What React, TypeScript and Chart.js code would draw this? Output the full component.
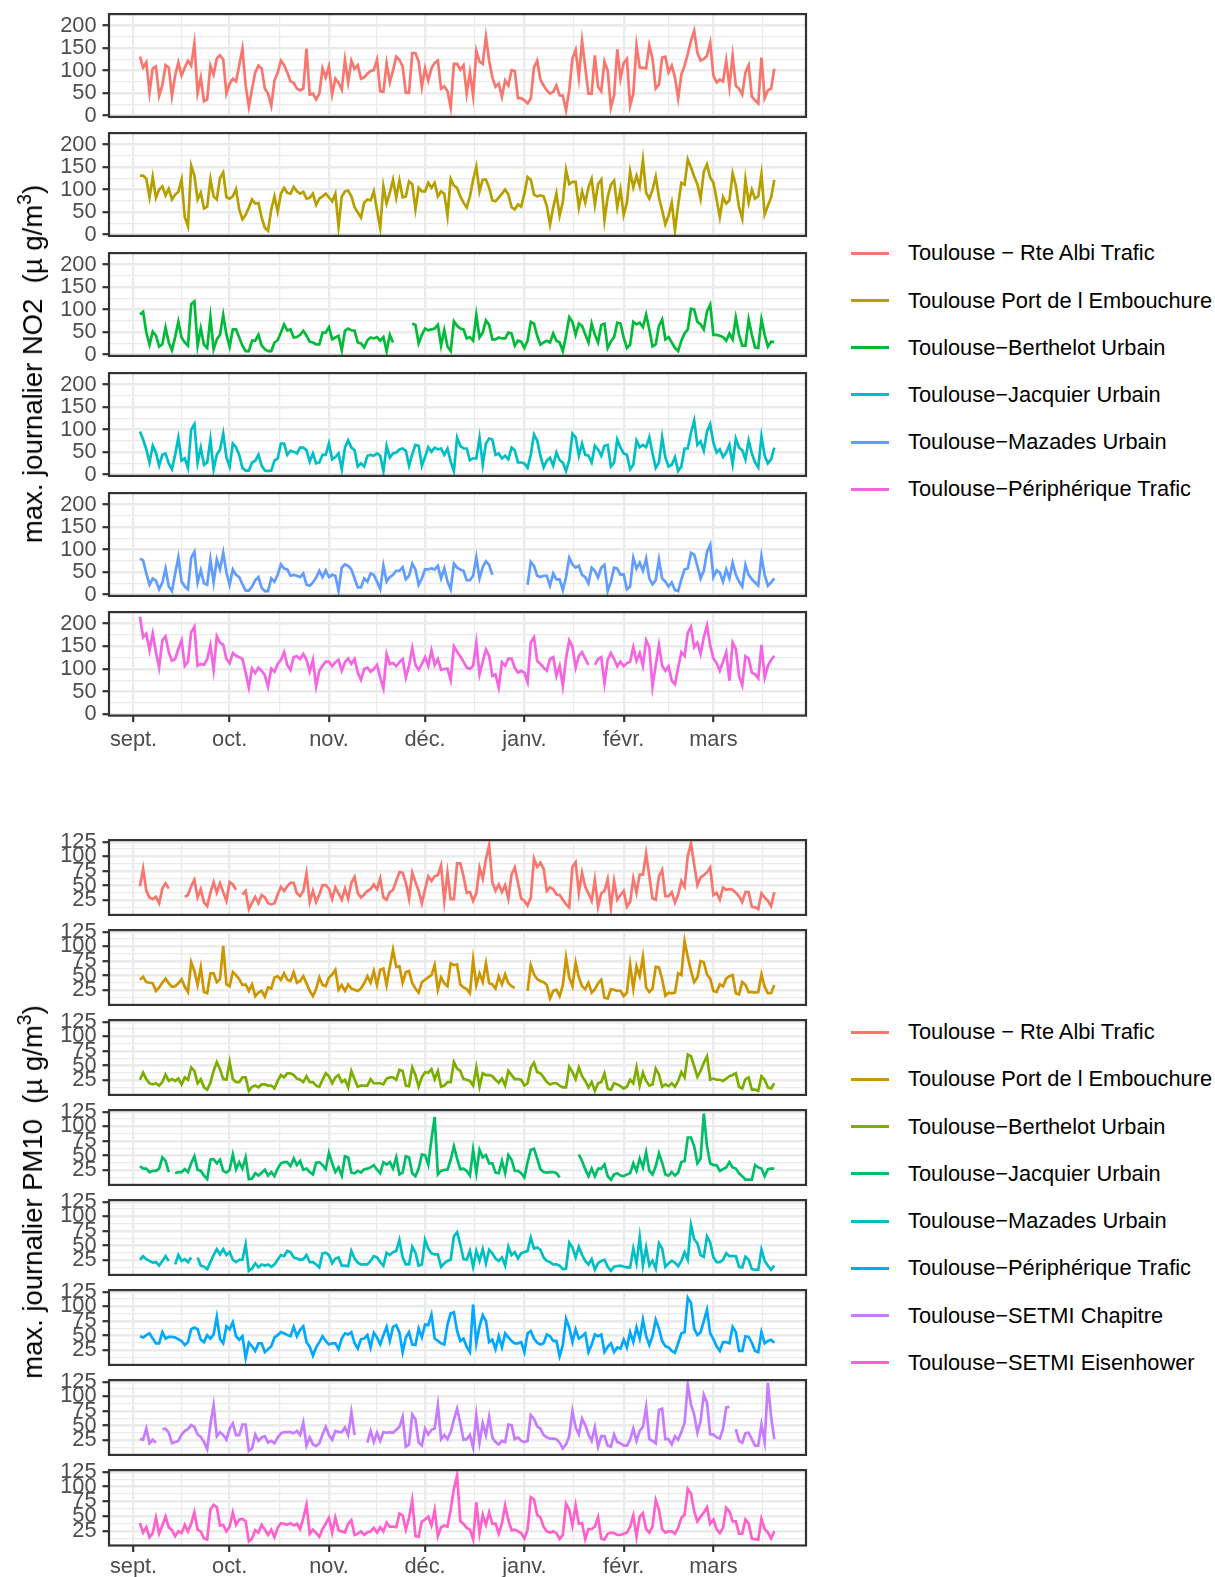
import React, { useEffect, useRef } from "react";
import { Chart, registerables } from "chart.js";
Chart.register(...registerables);

// ---------- data ----------
const FIRST_DAY = 2; // 3 sept. (day 0 = 1 sept.)
const MONTH_DAYS = [0, 30, 61, 91, 122, 153, 181];
const MONTH_LABELS = ["sept.", "oct.", "nov.", "déc.", "janv.", "févr.", "mars"];
const MINOR_DAYS = [15, 45.5, 76, 106.5, 137.5, 167, 196.5];

const NO2_TICKS = [0, 50, 100, 150, 200];
const NO2_MINOR = [25, 75, 125, 175, 225];
const PM10_TICKS = [25, 50, 75, 100, 125];
const PM10_MINOR = [12.5, 37.5, 62.5, 87.5, 112.5];

const NO2_STATIONS = [
  "Toulouse − Rte Albi Trafic",
  "Toulouse Port de l Embouchure",
  "Toulouse−Berthelot Urbain",
  "Toulouse−Jacquier Urbain",
  "Toulouse−Mazades Urbain",
  "Toulouse−Périphérique Trafic",
];
const NO2_COLORS = ["#F8766D", "#B79F00", "#00BA38", "#00BFC4", "#619CFF", "#F564E3"];

const PM10_STATIONS = [
  "Toulouse − Rte Albi Trafic",
  "Toulouse Port de l Embouchure",
  "Toulouse−Berthelot Urbain",
  "Toulouse−Jacquier Urbain",
  "Toulouse−Mazades Urbain",
  "Toulouse−Périphérique Trafic",
  "Toulouse−SETMI Chapitre",
  "Toulouse−SETMI Eisenhower",
];
const PM10_COLORS = ["#F8766D", "#CD9600", "#7CAE00", "#00BE67", "#00BFC4", "#00A9FF", "#C77CFF", "#FF61CC"];

const NO2_ALBI = [
  131,107,118,51,105,109,44,67,112,107,
  44,89,118,89,107,122,111,160,50,84,
  32,36,111,91,127,134,124,49,71,82,
  76,112,149,67,20,60,96,111,105,60,
  49,22,78,95,122,112,96,76,73,60,
  56,60,149,47,49,36,49,105,85,109,
  47,82,73,58,124,74,122,104,112,82,
  85,93,99,101,124,54,53,116,74,100,
  131,124,109,51,51,139,139,120,64,105,
  78,105,117,122,60,65,54,18,115,115,
  102,112,49,96,44,144,120,115,175,122,
  85,64,71,42,78,67,101,99,39,39,
  34,27,38,107,122,80,67,56,49,53,
  67,45,44,12,56,127,146,85,166,107,
  49,49,134,64,54,120,100,18,45,147,
  82,117,126,22,49,156,107,106,105,156,
  126,60,69,129,131,96,111,85,38,91,
  111,137,166,188,140,122,126,133,162,89,
  74,80,76,122,64,133,66,60,47,96,
  112,42,34,27,129,39,56,60,104,
];
const NO2_PORT = [
  131,131,124,83,128,82,100,107,87,102,
  78,89,95,122,39,19,153,131,78,93,
  58,62,123,85,78,126,138,83,80,85,
  101,56,34,44,60,78,69,70,38,15,
  9,56,85,51,91,104,93,91,106,96,
  91,95,80,82,91,66,80,85,91,
  83,74,91,18,85,96,98,85,61,49,
  38,71,78,76,96,54,15,107,69,93,
  122,82,120,83,85,118,112,56,104,96,
  96,115,104,115,85,96,91,42,124,109,
  104,85,71,60,85,122,151,96,122,122,
  104,76,74,82,91,100,89,61,56,
  67,62,91,128,122,89,85,87,85,64,
  22,60,91,42,73,144,112,117,117,60,
  96,71,105,124,66,112,122,32,83,111,
  120,61,100,44,71,140,105,131,107,166,
  93,80,100,129,83,54,23,42,71,9,
  66,115,111,167,149,129,112,80,140,156,
  127,115,78,39,83,69,76,136,109,61,
  36,122,71,100,80,85,134,45,64,82,
  122,
];
const NO2_BERTHELOT = [
  89,95,49,22,51,42,18,23,60,27,
  10,39,73,38,27,20,112,118,20,58,
  22,15,83,12,34,44,88,45,18,56,
  56,38,20,8,8,31,31,44,20,12,
  8,8,27,32,49,67,54,56,38,39,
  44,53,42,29,27,23,23,49,49,61,
  34,38,42,10,53,58,54,53,27,25,
  16,32,38,36,39,31,39,8,44,27,
  null,null,null,null,null,69,66,25,44,58,
  54,56,58,66,20,54,18,8,74,64,
  58,56,36,39,31,88,38,49,76,66,
  34,34,38,36,36,49,47,20,31,29,
  15,31,73,69,42,22,27,31,27,47,
  31,27,8,42,83,73,44,69,64,45,
  27,69,44,27,66,69,15,29,39,71,
  69,38,15,22,73,67,71,61,89,56,
  18,23,64,78,34,39,27,15,8,31,
  47,56,102,100,73,67,56,96,111,44,
  44,42,39,31,47,34,82,44,20,20,
  78,44,16,15,78,44,18,29,28,
];
const NO2_JACQUIER = [
  96,78,56,27,64,49,20,44,47,25,
  12,45,82,31,36,15,100,112,27,60,
  22,27,78,12,44,56,91,38,18,69,
  61,44,15,9,9,27,31,44,20,9,
  8,9,31,36,69,69,44,53,51,47,
  60,60,54,29,47,25,27,44,44,69,
  34,39,47,12,60,76,60,54,18,25,
  18,42,44,42,47,42,8,64,38,47,
  49,56,58,53,20,45,66,64,20,39,
  61,51,60,56,58,44,58,29,8,82,
  64,58,58,32,36,36,82,22,69,80,
  78,44,47,36,42,34,60,54,27,27,
  25,15,44,89,76,42,16,31,38,20,
  49,32,27,8,32,91,83,42,69,44,
  42,27,64,56,42,64,66,18,27,78,
  60,47,44,12,22,76,61,66,61,83,
  47,15,27,83,38,18,22,39,8,18,
  58,58,93,120,66,74,53,96,112,71,
  49,56,39,49,66,23,80,60,54,34,
  76,47,27,16,85,42,25,34,60,
];
const NO2_MAZADES = [
  80,76,47,22,36,31,12,27,58,18,
  8,47,83,29,18,12,82,95,27,54,
  25,22,78,27,78,56,93,49,22,56,
  44,39,23,9,9,18,32,39,15,8,
  8,36,29,44,67,58,56,42,44,
  42,39,47,22,20,27,38,53,39,54,
  39,44,42,9,60,67,64,56,36,16,
  16,36,29,47,44,29,12,64,29,39,
  44,53,53,61,34,42,69,56,22,36,
  56,56,58,56,64,36,58,29,12,69,
  60,56,53,32,32,42,83,36,61,74,
  66,44,
  null,null,null,null,null,null,null,null,null,null,
  22,73,64,42,39,42,42,20,47,34,
  34,10,39,82,67,60,64,44,39,25,
  60,53,38,60,66,8,29,60,58,44,
  45,12,18,82,58,71,53,80,36,23,
  32,78,36,29,18,27,10,8,34,56,
  58,93,89,64,36,53,95,111,39,54,
  49,29,56,36,71,44,29,18,66,
  44,34,27,20,85,44,20,27,36,
];
const NO2_PERIPH = [
  215,170,178,141,178,137,103,163,172,137,
  118,122,144,163,107,116,181,193,107,111,
  109,122,152,98,172,158,153,122,113,135,
  129,126,122,92,59,101,91,103,96,86,
  61,101,94,111,120,137,109,98,126,128,
  122,133,120,94,120,62,96,107,116,116,
  106,115,120,96,115,123,111,122,92,76,
  100,103,94,100,109,81,57,133,111,113,
  106,115,122,81,107,146,109,98,111,126,
  107,141,109,122,98,100,101,76,150,138,
  128,116,103,100,107,158,88,116,143,129,
  85,88,59,115,107,123,123,103,92,96,
  92,71,159,170,118,111,103,96,122,126,
  85,107,62,123,163,150,103,129,137,123,
  109,null,109,122,126,68,120,135,122,106,
  116,106,113,116,148,118,135,107,163,148,
  61,109,153,107,96,106,74,66,103,137,
  129,180,193,148,158,133,170,196,152,123,
  113,96,116,137,74,158,144,85,64,128,
  123,92,88,79,153,81,107,120,129,
];

const PM10_ALBI = [
  49,79,41,30,27,31,20,45,54,45,
  null,null,null,null,31,34,49,60,30,44,
  21,15,38,56,38,54,39,24,56,52,
  43,null,
  35,41,10,21,31,20,34,30,20,18,
  20,35,48,41,49,55,55,37,32,41,
  71,22,41,22,35,51,51,45,27,47,
  37,26,45,28,55,65,37,30,35,41,
  44,52,44,62,30,26,39,43,58,73,
  72,55,28,72,56,41,20,44,66,58,
  66,68,85,24,72,27,27,88,88,66,
  38,39,24,37,81,62,95,119,56,41,
  52,39,51,28,69,81,55,28,24,16,
  30,96,82,89,79,41,47,44,35,34,
  26,18,13,82,90,38,72,48,37,24,
  60,14,37,41,61,13,58,26,34,
  41,14,22,62,38,69,69,105,66,28,
  26,66,77,32,32,39,21,35,58,48,
  101,122,86,51,64,68,73,81,34,
  38,26,47,43,44,43,38,32,22,39,
  39,14,13,10,37,30,24,15,39,
];
const PM10_PORT = [
  43,48,39,38,37,24,30,38,45,37,
  31,32,37,44,31,22,73,58,34,64,
  22,20,54,54,39,44,101,35,32,56,
  51,44,34,35,24,35,15,21,24,
  14,30,28,47,49,43,54,43,41,56,
  38,41,49,37,24,15,27,47,34,
  32,47,52,60,26,34,24,35,28,26,
  24,28,37,49,38,58,34,60,62,34,
  65,94,65,66,38,56,58,37,28,21,
  39,43,47,51,68,26,47,37,32,71,
  68,69,35,30,27,20,77,34,54,39,
  71,37,35,28,49,35,52,37,32,29,
  null,null,null,
  24,68,52,44,41,39,34,11,24,
  26,15,34,81,47,32,72,47,32,27,
  38,21,27,37,43,12,11,27,26,24,
  24,15,21,69,28,66,49,82,30,22,
  28,65,64,44,16,21,20,21,54,51,
  109,82,58,39,47,75,73,52,45,24,
  22,35,32,45,49,51,20,18,39,34,
  22,22,21,22,52,31,20,20,34,
];
const PM10_BERTHELOT = [
  26,38,27,20,18,20,16,22,35,24,
  27,24,28,18,30,26,47,41,20,27,
  13,9,21,41,56,44,27,26,56,27,
  22,22,30,30,7,14,16,13,18,18,
  16,16,11,24,34,30,37,37,34,28,
  26,22,32,22,22,16,14,26,37,32,
  20,30,34,22,26,13,41,27,14,16,
  16,16,27,20,20,20,18,28,30,
  30,26,43,41,16,15,47,34,14,30,
  39,38,44,27,41,14,16,22,22,56,
  45,41,27,26,24,16,47,14,37,34,
  34,32,26,21,28,16,41,34,27,27,
  26,16,20,47,55,39,37,30,22,18,
  20,20,16,13,13,48,39,27,47,32,
  24,13,22,7,20,22,37,11,9,20,
  18,15,11,14,26,20,47,16,38,
  24,16,18,45,35,14,18,15,20,14,
  24,39,30,69,66,49,31,41,55,66,
  26,28,26,26,24,28,32,34,37,14,
  11,27,30,9,9,7,32,26,13,11,20,
];
const PM10_JACQUIER = [
  32,28,28,22,24,24,28,47,41,22,
  null,
  20,22,22,27,22,37,49,26,24,16,
  10,43,44,37,43,24,21,26,52,27,
  39,28,47,10,11,20,16,21,26,16,
  22,15,28,37,39,39,32,45,
  34,41,26,28,22,18,38,39,34,27,
  55,37,22,30,16,49,47,21,20,24,
  21,27,28,30,34,26,20,39,35,39,
  28,47,18,21,49,47,20,15,28,52,
  51,35,78,116,18,24,26,26,43,66,
  45,27,28,24,16,60,21,60,47,51,
  37,37,21,20,41,20,51,43,24,24,
  20,13,39,60,62,45,27,22,21,22,
  22,20,13,
  null,null,null,null,null,
  52,41,27,15,28,15,28,28,35,15,
  9,18,20,16,15,18,20,37,24,45,
  30,56,24,18,32,54,38,18,16,22,
  16,21,39,41,81,81,66,37,45,122,
  66,37,34,34,24,27,30,39,30,28,
  20,15,9,9,9,34,30,28,15,27,
  28,28,
];
const PM10_MAZADES = [
  26,32,27,24,21,22,16,24,32,24,
  null,
  18,34,24,27,22,30,
  null,
  30,16,14,10,22,34,44,35,44,34,
  39,26,22,26,26,52,7,11,20,13,
  18,16,18,14,18,26,34,32,41,39,
  30,28,26,27,34,22,22,18,13,37,
  38,34,20,28,30,16,16,15,41,28,
  21,18,18,18,24,32,30,22,16,
  38,34,39,41,60,30,18,18,48,38,
  16,18,60,45,37,35,35,14,20,24,
  26,66,73,52,27,26,41,14,41,24,
  44,20,43,37,28,24,30,16,48,34,
  39,28,37,39,41,64,45,47,43,30,
  24,22,18,18,16,10,11,55,47,30,
  48,34,24,18,27,9,20,24,26,14,
  7,14,15,16,14,13,13,45,20,65,
  16,47,16,24,11,54,45,14,20,24,
  21,15,24,39,26,85,61,54,34,31,
  66,55,30,22,22,26,37,32,32,
  32,14,13,31,26,10,9,9,43,24,
  16,9,16,
];
const PM10_PERIPH = [
  49,47,51,54,45,37,37,56,45,48,
  48,47,44,41,34,39,61,64,61,43,
  39,51,45,52,82,44,37,66,61,
  73,49,43,49,12,38,32,24,37,37,
  22,27,32,47,51,56,54,51,49,65,
  49,60,66,39,31,16,30,39,49,41,
  35,37,37,27,45,54,52,56,37,
  28,44,45,51,30,55,47,35,51,65,
  41,65,68,55,22,47,56,35,34,62,
  47,69,68,86,45,41,37,35,69,88,
  90,58,41,45,31,22,103,37,66,85,
  75,39,43,27,49,30,54,47,41,37,
  37,39,22,54,58,45,38,35,37,52,
  49,41,41,15,34,79,64,39,61,45,
  49,54,22,35,52,49,52,22,31,37,
  22,30,28,43,30,56,39,64,45,77,
  49,34,49,77,62,41,32,30,24,21,
  37,54,56,115,106,62,51,56,75,94,
  54,44,32,24,39,39,37,65,56,24,
  24,49,48,38,24,22,56,37,41,43,38,
];
const PM10_CHAPITRE = [
  27,26,45,20,26,21,
  null,
  44,45,38,20,22,24,35,41,44,51,
  48,35,31,22,10,52,85,32,39,34,
  26,45,54,34,34,52,52,7,11,35,
  24,30,32,21,24,20,30,37,39,39,
  39,37,41,34,55,16,30,18,15,20,
  35,48,34,26,41,39,39,47,34,73,34,
  null,null,null,
  21,41,22,38,24,39,38,39,38,43,
  48,65,14,18,69,61,21,16,45,35,
  43,45,85,27,34,27,39,60,79,54,
  26,27,34,13,68,21,54,34,65,30,
  22,18,24,22,52,51,27,30,24,22,
  24,68,62,49,45,34,30,28,28,27,
  21,11,18,32,75,47,35,62,51,35,
  24,47,14,32,32,16,14,35,22,20,
  16,16,26,45,24,41,48,82,27,
  24,20,77,79,27,27,18,32,26,39,
  55,120,86,69,38,58,103,89,35,35,
  30,28,45,81,82,
  null,
  44,24,21,37,38,27,16,16,52,22,123,66,27,
];
const PM10_EISENHOWER = [
  38,22,31,14,21,47,20,34,49,31,
  26,16,24,21,35,24,37,56,27,24,
  12,10,61,69,65,34,35,24,32,56,
  35,44,45,41,7,12,26,22,35,27,
  18,27,14,30,38,37,35,38,34,37,
  28,47,69,20,27,21,15,28,37,47,
  22,47,26,24,22,37,43,18,20,
  24,18,22,24,30,22,31,24,39,32,
  32,31,54,51,27,47,77,16,15,41,
  44,49,34,60,16,31,34,32,61,96,
  119,41,37,30,27,11,73,21,52,35,
  56,37,37,20,38,68,43,26,27,24,
  21,12,27,82,78,52,48,32,24,22,
  24,21,11,18,71,61,34,68,37,
  38,11,28,28,32,48,12,10,20,22,
  21,18,18,20,22,32,51,15,49,55,
  28,22,32,77,61,28,22,24,24,20,
  30,47,52,96,88,58,41,49,56,65,
  37,44,28,21,30,64,58,41,41,20,
  20,44,37,12,11,10,45,28,22,12,24,
];

const NO2_SERIES = [NO2_ALBI, NO2_PORT, NO2_BERTHELOT, NO2_JACQUIER, NO2_MAZADES, NO2_PERIPH];
const PM10_SERIES = [PM10_ALBI, PM10_PORT, PM10_BERTHELOT, PM10_JACQUIER, PM10_MAZADES, PM10_PERIPH, PM10_CHAPITRE, PM10_EISENHOWER];

// ---------- layout / style ----------
const FONT = "'Liberation Sans', Arial, Helvetica, sans-serif";
const TICK_FONT = 21.8;
const CANVAS_W = 812;
const PANEL_LEFT = 109;
const PANEL_RIGHT = 806;
const X_MIN = -7.65;
const X_MAX = 209.9;
const GRID = "#EBEBEB";
const DARK = "#333333";
const TICK_LEN = 6.5;
const PAD = 18; // room for y-label overflow above / below the panel
const LINE_W = 2.7;

const NO2_TOP = 12.7;
const NO2_H = 104.6;
const NO2_STEP = 119.7;
const NO2_RANGE = [-2.8, 225.4];
const PM_TOP = 838.9;
const PM_H = 76.5;
const PM_STEP = 90.07;
const PM_RANGE = [0.1, 127.8];

const panelBorder = {
  id: "panelBorder",
  afterDatasetsDraw(chart: any) {
    const { ctx, chartArea: a } = chart;
    ctx.save();
    ctx.strokeStyle = DARK;
    ctx.lineWidth = 2.2;
    ctx.strokeRect(a.left, a.top, a.right - a.left, a.bottom - a.top);
    ctx.restore();
  },
};

type PanelProps = {
  values: (number | null)[];
  color: string;
  top: number;
  height: number;
  range: number[];
  major: number[];
  minor: number[];
  showX: boolean;
  labelPad: number;
};

function Panel(p: PanelProps) {
  const ref = useRef<HTMLCanvasElement>(null);
  const xAxisH = p.showX ? TICK_LEN + p.labelPad + 28 : 0;
  const padBottom = p.showX ? 4 : PAD;
  const canvasH = Math.ceil(PAD + p.height + xAxisH + padBottom);

  useEffect(() => {
    const chart = new Chart(ref.current as HTMLCanvasElement, {
      type: "line",
      data: {
        datasets: [
          {
            data: p.values.map((v, i) => ({ x: FIRST_DAY + i, y: v })),
            borderColor: p.color,
            borderWidth: LINE_W,
            pointRadius: 0,
            tension: 0,
            spanGaps: false,
          },
        ],
      },
      options: {
        responsive: false,
        animation: false,
        devicePixelRatio: 1,
        events: [],
        layout: {
          padding: {
            top: PAD,
            left: 0,
            right: CANVAS_W - PANEL_RIGHT,
            bottom: canvasH - PAD - p.height - xAxisH,
          },
        },
        plugins: { legend: { display: false }, tooltip: { enabled: false } },
        scales: {
          xMinor: {
            type: "linear",
            position: "bottom",
            min: X_MIN,
            max: X_MAX,
            afterBuildTicks: (s: any) => {
              s.ticks = MINOR_DAYS.map((v) => ({ value: v }));
            },
            ticks: { display: false },
            grid: { color: GRID, lineWidth: 1.2, drawTicks: false },
            border: { display: false },
            afterFit: (s: any) => {
              s.height = 0;
            },
          },
          x: {
            type: "linear",
            position: "bottom",
            min: X_MIN,
            max: X_MAX,
            afterBuildTicks: (s: any) => {
              s.ticks = MONTH_DAYS.map((v) => ({ value: v }));
            },
            ticks: {
              display: p.showX,
              autoSkip: false,
              maxRotation: 0,
              padding: p.labelPad,
              color: "#4D4D4D",
              font: { family: FONT, size: TICK_FONT },
              callback: (_v: any, i: number) => MONTH_LABELS[i],
            },
            grid: {
              color: GRID,
              lineWidth: 2.4,
              drawTicks: p.showX,
              tickLength: TICK_LEN,
              tickColor: DARK,
              tickWidth: 2.2,
            },
            border: { display: false },
            afterFit: (s: any) => {
              s.height = xAxisH;
            },
          },
          yMinor: {
            type: "linear",
            position: "left",
            min: p.range[0],
            max: p.range[1],
            afterBuildTicks: (s: any) => {
              s.ticks = p.minor.map((v) => ({ value: v }));
            },
            ticks: { display: false },
            grid: { color: GRID, lineWidth: 1.2, drawTicks: false },
            border: { display: false },
            afterFit: (s: any) => {
              s.width = 0;
            },
          },
          y: {
            type: "linear",
            position: "left",
            min: p.range[0],
            max: p.range[1],
            afterBuildTicks: (s: any) => {
              s.ticks = p.major.map((v) => ({ value: v }));
            },
            ticks: {
              autoSkip: false,
              padding: 6,
              color: "#4D4D4D",
              font: { family: FONT, size: TICK_FONT },
              callback: (v: any) => String(v),
            },
            grid: {
              color: GRID,
              lineWidth: 2.4,
              drawTicks: true,
              tickLength: TICK_LEN,
              tickColor: DARK,
              tickWidth: 2.2,
            },
            border: { display: false },
            afterFit: (s: any) => {
              s.width = PANEL_LEFT;
            },
          },
        },
      } as any,
      plugins: [panelBorder],
    });
    return () => chart.destroy();
  }, []);

  return (
    <canvas
      ref={ref}
      width={CANVAS_W}
      height={canvasH}
      style={{ position: "absolute", left: 0, top: p.top - PAD, width: CANVAS_W, height: canvasH }}
    />
  );
}

function Legend(props: { names: string[]; colors: string[]; top: number; step: number }) {
  return (
    <>
      {props.names.map((n, i) => (
        <div key={n} style={{ position: "absolute", left: 0, top: props.top + i * props.step, width: 1215, height: 0 }}>
          <div
            style={{
              position: "absolute",
              left: 851,
              top: -1.5,
              width: 38,
              height: 3,
              background: props.colors[i],
            }}
          />
          <div
            style={{
              position: "absolute",
              left: 908,
              top: -13,
              height: 26,
              lineHeight: "26px",
              fontFamily: FONT,
              fontSize: TICK_FONT,
              color: "#000",
              whiteSpace: "nowrap",
            }}
          >
            {n}
          </div>
        </div>
      ))}
    </>
  );
}

function YTitle(props: { label: string; cy: number }) {
  return (
    <div
      style={{
        position: "absolute",
        left: 33,
        top: props.cy,
        transform: "translate(-50%, -50%) rotate(-90deg)",
        fontFamily: FONT,
        fontSize: 27.5,
        color: "#000",
        whiteSpace: "nowrap",
        lineHeight: "32px",
      }}
    >
      {props.label}
      {"\u00A0 (\u00B5\u00A0g/m"}
      <sup style={{ fontSize: 19.5, verticalAlign: "0.55em", lineHeight: 0 }}>3</sup>
      {")"}
    </div>
  );
}

export default function App() {
  const no2Center = NO2_TOP + (5 * NO2_STEP + NO2_H) / 2;
  const pmCenter = PM_TOP + (7 * PM_STEP + PM_H) / 2;
  return (
    <div style={{ position: "absolute", left: 0, top: 0, width: 1215, height: 1577, background: "#fff", overflow: "hidden" }}>
      {NO2_SERIES.map((s, i) => (
        <Panel
          key={"no2" + i}
          values={s}
          color={NO2_COLORS[i]}
          top={NO2_TOP + i * NO2_STEP}
          height={NO2_H}
          range={NO2_RANGE}
          major={NO2_TICKS}
          minor={NO2_MINOR}
          showX={i === NO2_SERIES.length - 1}
          labelPad={5}
        />
      ))}
      {PM10_SERIES.map((s, i) => (
        <Panel
          key={"pm" + i}
          values={s}
          color={PM10_COLORS[i]}
          top={PM_TOP + i * PM_STEP}
          height={PM_H}
          range={PM_RANGE}
          major={PM10_TICKS}
          minor={PM10_MINOR}
          showX={i === PM10_SERIES.length - 1}
          labelPad={2}
        />
      ))}
      <YTitle label="max. journalier NO2" cy={no2Center} />
      <YTitle label="max. journalier PM10" cy={pmCenter} />
      <Legend names={NO2_STATIONS} colors={NO2_COLORS} top={253.3} step={47.2} />
      <Legend names={PM10_STATIONS} colors={PM10_COLORS} top={1032} step={47.27} />
    </div>
  );
}
